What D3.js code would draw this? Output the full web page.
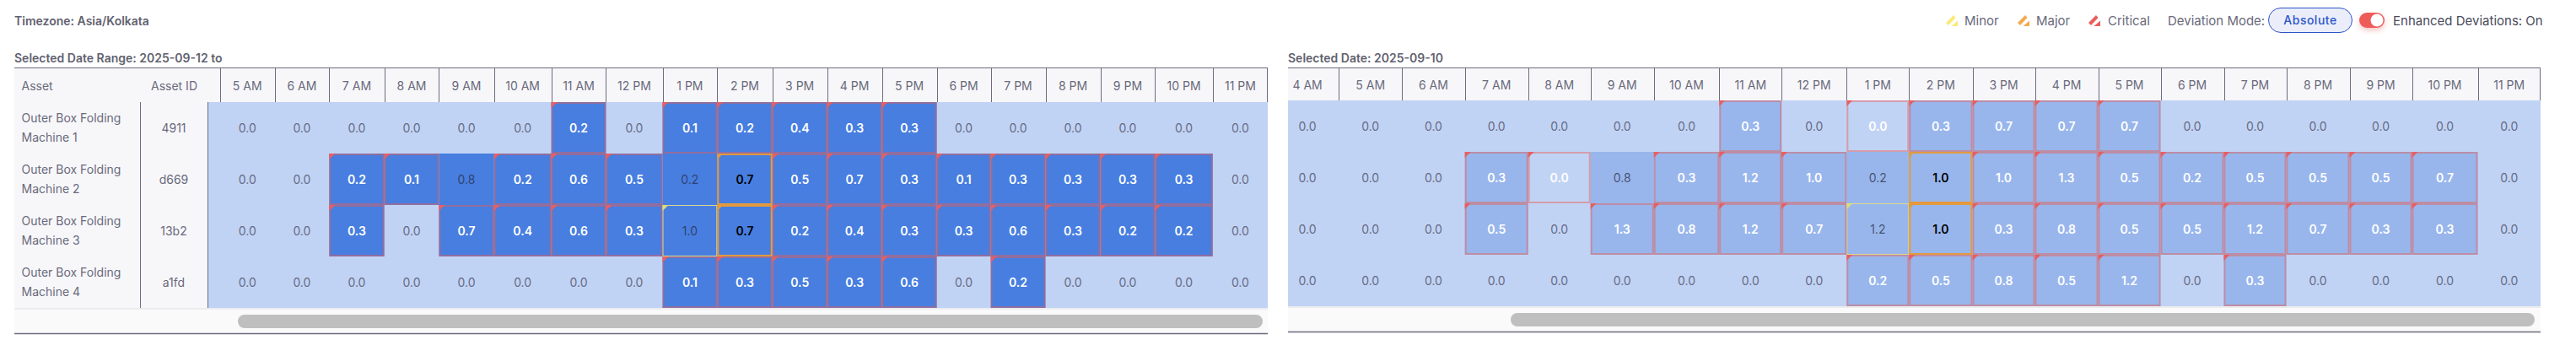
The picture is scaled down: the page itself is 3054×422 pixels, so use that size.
<!DOCTYPE html>
<html><head><meta charset="utf-8">
<script src="https://cdnjs.cloudflare.com/ajax/libs/d3/7.8.5/d3.min.js"></script>
<style>html,body{margin:0;padding:0;background:#fff;overflow:hidden}svg{display:block}text{font-family:Inter,sans-serif}</style>
</head><body><svg id="c" width="3054" height="422"></svg>
<script>
const assets = ["Outer Box Folding|Machine 1","Outer Box Folding|Machine 2","Outer Box Folding|Machine 3","Outer Box Folding|Machine 4"];
const assetIds = ["4911","d669","13b2","a1fd"];
const hoursLeft = ["5 AM","6 AM","7 AM","8 AM","9 AM","10 AM","11 AM","12 PM","1 PM","2 PM","3 PM","4 PM","5 PM","6 PM","7 PM","8 PM","9 PM","10 PM","11 PM"];
const hoursRight = ["4 AM"].concat(hoursLeft);
const valuesLeft1 = [0,0,0,0,0,0,.2,0,.1,.2,.4,.3,.3,0,0,0,0,0,0];
const valuesLeft2 = [0,0,.2,.1,.8,.2,.6,.5,.2,.7,.5,.7,.3,.1,.3,.3,.3,.3,0];
const valuesLeft3 = [0,0,.3,0,.7,.4,.6,.3,1.0,.7,.2,.4,.3,.3,.6,.3,.2,.2,0];
const valuesLeft4 = [0,0,0,0,0,0,0,0,.1,.3,.5,.3,.6,0,.2,0,0,0,0];
const valuesRight1 = [0,0,0,0,0,0,0,.3,0,0,.3,.7,.7,.7,0,0,0,0,0,0];
const valuesRight2 = [0,0,0,.3,0,.8,.3,1.2,1.0,.2,1.0,1.0,1.3,.5,.2,.5,.5,.5,.7,0];
const valuesRight3 = [0,0,0,.5,0,1.3,.8,1.2,.7,1.2,1.0,.3,.8,.5,.5,1.2,.7,.3,.3,0];
const valuesRight4 = [0,0,0,0,0,0,0,0,0,.2,.5,.8,.5,1.2,0,.3,0,0,0,0];
// deviation level per hour, 5 AM to 11 PM: . none, y minor, m major, c critical
const severity1 = "......c.ccccc......";
const severity2 = "..cc.ccc.mcccccccc.";
const severity3 = "..c.ccccymcccccccc.";
const severity4 = "........ccccc.c....";
const severityRows = [severity1,severity2,severity3,severity4];
const legendItems = [["Minor","#fbe97a",2307,2329],["Major","#f4a94e",2392,2414],["Critical","#ee5c5c",2476,2499]];

const svg = d3.select("#c");
const ink="#6a6a7b", rule="#6c6c7e", head="#f7f7fa";
const fmt = d3.format(".1f");

function panel(o){
  const n=o.hours.length;
  const x=d3.scaleLinear().domain(d3.range(n+1)).range(o.edges);
  const y=d3.scaleBand().domain(d3.range(4)).range([o.top,o.bottom]);
  const clipId="clip"+o.id;
  const g=svg.append("g");
  g.append("clipPath").attr("id",clipId).append("rect").attr("x",o.bodyLeft).attr("y",60).attr("width",o.right-o.bodyLeft).attr("height",340);
  g.append("rect").attr("x",o.left).attr("y",80).attr("width",o.right-o.left).attr("height",o.top-80).attr("fill",head);
  g.append("rect").attr("x",o.bodyLeft).attr("y",o.top).attr("width",o.right-o.bodyLeft).attr("height",o.bottom-o.top).attr("fill","#c1d3f4");
  const cols=g.append("g").attr("clip-path",`url(#${clipId})`);
  const cells=[];
  o.rows.forEach((vals,r)=>vals.forEach((v,c)=>cells.push({r,c,v,s:severityRows[r][c-o.shift]||"."})));
  cols.selectAll("rect.f").data(cells.filter(d=>d.v>0)).join("rect").attr("class","f")
    .attr("x",d=>x(d.c)).attr("y",d=>y(d.r)).attr("width",d=>x(d.c+1)-x(d.c)).attr("height",y.bandwidth()).attr("fill",o.strong);
  const order={".":0,y:1,c:2,m:3};
  const marked=cells.filter(d=>d.s!==".").sort((a,b)=>order[a.s]-order[b.s]);
  const col={c:"rgba(236,90,80,.45)",m:"#e39a3e",y:"#d9d88c"};
  const tri={c:"#e65f63",m:"#e39a3e",y:"#dcdc78"};
  cols.selectAll("rect.b").data(marked).join("rect").attr("class","b")
    .attr("x",d=>x(d.c)+(d.s==="y"?.5:1)).attr("y",d=>y(d.r)+(d.s==="y"?.5:1))
    .attr("width",d=>x(d.c+1)-x(d.c)-(d.s==="y"?1:2)).attr("height",d=>y.bandwidth()-(d.s==="y"?1:2))
    .attr("fill","none").attr("stroke",d=>col[d.s]).attr("stroke-width",d=>d.s==="y"?1:2);
  cols.selectAll("path.t").data(marked).join("path").attr("class","t")
    .attr("d",d=>{const a=x(d.c),b=y(d.r);return d3.line()([[a,b],[a+7,b],[a,b+7]])+"Z";}).attr("fill",d=>tri[d.s]);
  cols.selectAll("text.v").data(cells).join("text").attr("class","v")
    .attr("x",d=>(x(d.c)+x(d.c+1))/2).attr("y",d=>y(d.r)+y.bandwidth()/2).attr("dy","0.36em").attr("text-anchor","middle")
    .attr("font-size",14).attr("font-weight",d=>d.s==="c"||d.s==="m"?600:400)
    .attr("fill",d=>d.s==="c"?"#fff":d.s==="m"?"#000":d.v>0?"rgba(40,40,60,.72)":"#666b86").text(d=>fmt(d.v));
  const hg=g.append("g").attr("clip-path",`url(#${clipId})`);
  hg.selectAll("line").data(d3.range(o.firstRule,n)).join("line")
    .attr("x1",d=>Math.round(x(d))+.5).attr("x2",d=>Math.round(x(d))+.5).attr("y1",80).attr("y2",o.top).attr("stroke",rule);
  hg.selectAll("text").data(o.hours).join("text")
    .attr("x",(d,i)=>(x(i)+x(i+1))/2).attr("y",(80+o.top)/2+1).attr("dy","0.36em").attr("text-anchor","middle")
    .attr("font-size",14).attr("fill",ink).text(d=>d);
  g.append("line").attr("x1",o.left).attr("x2",o.right).attr("y1",80.5).attr("y2",80.5).attr("stroke",rule);
  g.append("line").attr("x1",o.right-.5).attr("x2",o.right-.5).attr("y1",80).attr("y2",o.top).attr("stroke",rule);
  g.append("rect").attr("x",o.left).attr("y",o.bottom).attr("width",o.right-o.left).attr("height",o.foot-o.bottom).attr("fill","#fafafa");
  g.append("rect").attr("x",o.left).attr("y",o.bottom).attr("width",o.right-o.left).attr("height",2).attr("fill","#ececef");
  g.append("rect").attr("x",o.thumb[0]).attr("y",o.bottom+8).attr("width",o.thumb[1]-o.thumb[0]).attr("height",16).attr("rx",8).attr("fill","#bfbfbf");
  g.append("line").attr("x1",o.left).attr("x2",o.right).attr("y1",o.foot+.5).attr("y2",o.foot+.5).attr("stroke",rule).attr("stroke-width",1.4);
  g.append("text").attr("x",o.left).attr("y",69).attr("dy","0.36em").attr("font-size",14).attr("font-weight",600).attr("fill","#62626f").text(o.title);
  return {y,g};
}

const L=panel({id:"L",hours:hoursLeft,shift:0,rows:[valuesLeft1,valuesLeft2,valuesLeft3,valuesLeft4],
  edges:[261,325.5,390.3,455.6,520.4,585.7,653.6,718.4,785.5,850.3,915.7,980.7,1045.6,1110.6,1174.6,1239.5,1304.5,1369.4,1437.8,1503],
  left:17,bodyLeft:246.5,right:1503,top:121,bottom:365,foot:395,firstRule:0,strong:"#477ee0",thumb:[282,1497],
  title:"Selected Date Range: 2025-09-12 to"});
panel({id:"R",hours:hoursRight,shift:1,rows:[valuesRight1,valuesRight2,valuesRight3,valuesRight4],
  edges:[1513,1587.2,1662.2,1736.7,1811.7,1885.7,1960.7,2038.3,2112.2,2189.3,2263.3,2338.5,2412.5,2487.5,2561.5,2636.5,2710.5,2785.5,2859.5,2937.5,3012],
  left:1527,bodyLeft:1527,right:3012,top:119,bottom:363,foot:393,firstRule:1,strong:"#98b6ec",thumb:[1791,3005],
  title:"Selected Date: 2025-09-10"});

const fz=L.g.append("g");
fz.append("rect").attr("x",17).attr("y",121).attr("width",229.5).attr("height",244).attr("fill",head);
fz.selectAll("line").data([166,246]).join("line").attr("x1",d=>d+.5).attr("x2",d=>d+.5).attr("y1",121).attr("y2",365).attr("stroke",rule);
fz.append("text").attr("x",25.5).attr("y",102).attr("dy","0.36em").attr("font-size",14).attr("fill",ink).text("Asset");
fz.append("text").attr("x",206.5).attr("y",102).attr("dy","0.36em").attr("text-anchor","middle").attr("font-size",14).attr("fill",ink).text("Asset ID");
assets.forEach((a,r)=>{
  const cy=L.y(r)+L.y.bandwidth()/2;
  a.split("|").forEach((t,i)=>fz.append("text").attr("x",25.5).attr("y",cy+(i?11.5:-11.5)).attr("dy","0.36em").attr("font-size",14).attr("fill",ink).text(t));
  fz.append("text").attr("x",206).attr("y",cy).attr("dy","0.36em").attr("text-anchor","middle").attr("font-size",14).attr("fill",ink).text(assetIds[r]);
});

svg.append("text").attr("x",17).attr("y",25).attr("dy","0.36em").attr("font-size",14).attr("font-weight",600).attr("fill","#62626f").text("Timezone: Asia/Kolkata");
legendItems.forEach(([t,c,ix,tx])=>{
  const g=svg.append("g").attr("transform",`translate(${ix},18)`);
  g.append("path").attr("d","M0 9L9 0L11.5 3L3 12Z").attr("fill",c);
  g.append("path").attr("d","M6.5 13L14 6.5L14 13Z").attr("fill",c);
  svg.append("text").attr("x",tx).attr("y",25).attr("dy","0.36em").attr("font-size",15).attr("fill",ink).text(t);
});
svg.append("text").attr("x",2570).attr("y",25).attr("dy","0.36em").attr("font-size",15).attr("fill",ink).text("Deviation Mode:");
svg.append("rect").attr("x",2689.5).attr("y",9.5).attr("width",99).attr("height",29).attr("rx",14.5).attr("fill","#ebeefa").attr("stroke","#2d55c8");
svg.append("text").attr("x",2739).attr("y",23.5).attr("dy","0.36em").attr("text-anchor","middle").attr("font-size",14).attr("font-weight",500).attr("letter-spacing",.5).attr("fill","#2d55c8").text("Absolute");
const f=svg.append("defs").append("filter").attr("id","sh").attr("x","-30%").attr("y","-50%").attr("width","160%").attr("height","220%");
f.append("feDropShadow").attr("dx",0).attr("dy",3).attr("stdDeviation",3).attr("flood-color","#ee5c5a").attr("flood-opacity",.35);
svg.append("rect").attr("x",2797).attr("y",15).attr("width",30).attr("height",18).attr("rx",9).attr("fill","#ee5c5a").attr("filter","url(#sh)");
svg.append("circle").attr("cx",2818).attr("cy",24).attr("r",7.5).attr("fill","#fff");
svg.append("text").attr("x",2837).attr("y",25).attr("dy","0.36em").attr("font-size",15).attr("fill","#4b4b5c").text("Enhanced Deviations: On");
</script></body></html>
